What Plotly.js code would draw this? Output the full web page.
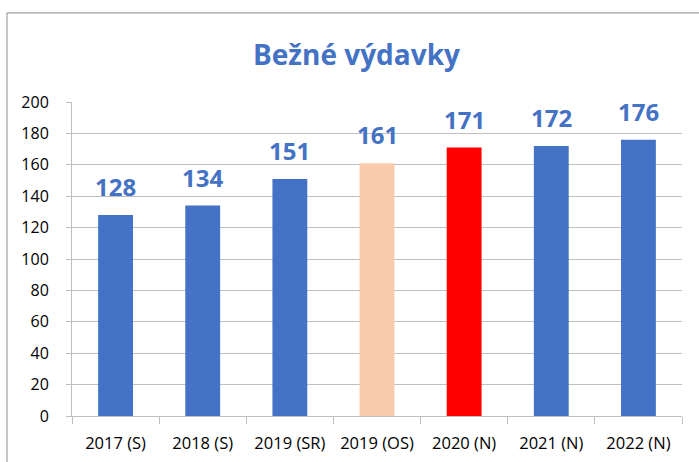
<!DOCTYPE html>
<html>
<head>
<meta charset="utf-8">
<script src="https://cdn.plot.ly/plotly-3.0.1.min.js"></script>
<style>
  html, body { margin: 0; padding: 0; background: #fff; }
  #chart { width: 699px; height: 462px; }
</style>
</head>
<body>
<div id="chart"></div>
<script>
const categories = ["2017 (S)", "2018 (S)", "2019 (SR)", "2019 (OS)", "2020 (N)", "2021 (N)", "2022 (N)"];
const values = [128, 134, 151, 161, 171, 172, 176];
const barColors = ["#4472C4", "#4472C4", "#4472C4", "#F8CBAD", "#FF0000", "#4472C4", "#4472C4"];
const yTicks = [0, 20, 40, 60, 80, 100, 120, 140, 160, 180, 200];
const titleText = "Bežné výdavky";

const FONT = "Open Sans, Noto Sans, sans-serif";
const trace = {
  type: "bar",
  x: categories,
  y: values,
  marker: { color: barColors, line: { width: 0 } },
  width: 0.4,
  hoverinfo: "skip"
};

const annotations = categories.map((c, i) => ({
  x: c, y: values[i], xref: "x", yref: "y",
  text: String(values[i]),
  showarrow: false,
  yanchor: "bottom",
  yshift: 10,
  font: { family: FONT, size: 24, color: "#4472C4", weight: "bold" }
}));

const layout = {
  width: 699, height: 462,
  margin: { l: 72, r: 17, t: 102, b: 46 },
  paper_bgcolor: "#ffffff",
  plot_bgcolor: "#ffffff",
  showlegend: false,
  bargap: 0.6,
  title: {
    text: "<b>" + titleText + "</b>",
    x: 0.51, xref: "container", xanchor: "center",
    y: 0.881, yref: "container", yanchor: "middle",
    font: { family: FONT, size: 28, color: "#4472C4" }
  },
  xaxis: {
    type: "category",
    showline: true, linecolor: "#BFBFBF", linewidth: 1,
    ticks: "outside", tickson: "boundaries", ticklen: 7, tickcolor: "#BFBFBF",
    showgrid: false,
    tickfont: { family: FONT, size: 16.5, color: "#000" },
    ticklabelstandoff: 12,
    fixedrange: true
  },
  yaxis: {
    range: [0, 200],
    tickvals: yTicks,
    ticktext: yTicks.map(String),
    showline: true, linecolor: "#BFBFBF", linewidth: 1,
    showgrid: true, gridcolor: "#BFBFBF", gridwidth: 1,
    zeroline: false,
    ticks: "outside", ticklen: 5, tickcolor: "#BFBFBF",
    tickfont: { family: FONT, size: 16, color: "#000" },
    ticklabelstandoff: 14,
    fixedrange: true
  },
  annotations: annotations,
  shapes: [
    { type: "rect", xref: "paper", yref: "paper",
      x0: -0.1066, x1: 1.1, y0: -0.3, y1: 1.2837,
      line: { color: "#8C8C8C", width: 1 }, fillcolor: "rgba(0,0,0,0)", layer: "below" }
  ]
};

Plotly.newPlot("chart", [trace], layout, { staticPlot: true, displayModeBar: false });
</script>
</body>
</html>
